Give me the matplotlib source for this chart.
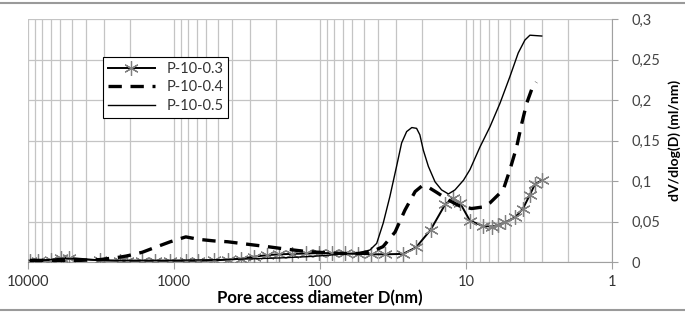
import matplotlib
matplotlib.use('Agg')
import matplotlib.pyplot as plt
from matplotlib.lines import Line2D
from matplotlib.ticker import LogLocator, FuncFormatter, NullFormatter

plt.rcParams['font.family'] = ['Lato', 'DejaVu Sans']

# pore diameters (nm) and dV/dlog(D) values
d_03 = [9700, 8500, 7000, 5900, 5200, 3200, 2350, 2100, 1650, 1350, 1060, 830,
        680, 530, 430, 350, 285, 230, 190, 155, 125, 102, 83, 67, 55, 44.5, 36,
        27, 22, 17.5, 13.9, 12.3, 11.0, 9.4, 7.65, 6.64, 6.04, 5.41, 4.62, 4.07,
        3.65, 3.37, 3.01]
v_03 = [0.0015, 0.0015, 0.002, 0.005, 0.005, 0.002, 0.0015, 0.0015, 0.0015,
        0.0015, 0.0015, 0.0015, 0.0015, 0.002, 0.003, 0.004, 0.0065, 0.0085,
        0.0095, 0.010, 0.0105, 0.011, 0.011, 0.0105, 0.010, 0.0095, 0.0095,
        0.010, 0.018, 0.0395, 0.071, 0.079, 0.073, 0.051, 0.0445, 0.0438,
        0.0455, 0.049, 0.055, 0.066, 0.083, 0.096, 0.101]

d_04 = [9700, 5900, 5200, 3200, 2350, 2100, 1650, 1350, 1060, 830, 680, 530,
        430, 350, 285, 230, 190, 155, 125, 102, 83, 67, 55, 45, 37, 30.6, 26.2,
        22.3, 20, 18, 15.9, 13.2, 11.0, 9.15, 7.6, 6.85, 5.56, 5.0, 4.5, 4.15,
        3.84, 3.55, 3.3]
v_04 = [0.002, 0.002, 0.0015, 0.003, 0.006, 0.0075, 0.012, 0.018, 0.025, 0.031,
        0.028, 0.026, 0.025, 0.023, 0.021, 0.019, 0.017, 0.015, 0.013, 0.012,
        0.011, 0.0105, 0.0105, 0.012, 0.019, 0.037, 0.064, 0.087, 0.094, 0.092,
        0.086, 0.0765, 0.069, 0.066, 0.068, 0.073, 0.089, 0.114, 0.142, 0.171,
        0.196, 0.213, 0.222]

d_05 = [9700, 7000, 5900, 5200, 3200, 1650, 1060, 680, 430, 285, 190, 125, 102,
        85, 67, 55, 45.5, 40.9, 36.9, 33.2, 29.9, 27.6, 25.5, 23.5, 21.8, 20.7,
        19.6, 18.1, 16.3, 14.7, 13.2, 11.9, 10.4, 9.4, 8.02, 6.85, 5.85, 5.0,
        4.39, 3.95, 3.65, 3.03]
v_05 = [0.002, 0.003, 0.0045, 0.004, 0.002, 0.002, 0.002, 0.0025, 0.003, 0.004,
        0.005, 0.0065, 0.0075, 0.0086, 0.010, 0.011, 0.0148, 0.023, 0.048, 0.081,
        0.118, 0.147, 0.161, 0.166, 0.165, 0.157, 0.138, 0.118, 0.099, 0.089,
        0.084, 0.089, 0.101, 0.114, 0.142, 0.167, 0.196, 0.229, 0.258, 0.274,
        0.280, 0.279]

labels = ['P-10-0.3', 'P-10-0.4', 'P-10-0.5']
y_ticks = [0, 0.05, 0.1, 0.15, 0.2, 0.25, 0.3]
x_ticks = [10000, 1000, 100, 10, 1]

fig = plt.figure(figsize=(6.85, 3.12), dpi=100)
ax = fig.add_axes([28 / 685, 50 / 312, 584 / 685, 243 / 312])

# grey frame lines of the chart area (top and bottom)
fig.add_artist(Line2D([0, 1], [0.991, 0.991], transform=fig.transFigure,
                      color='#9a9a9a', lw=1.5))
fig.add_artist(Line2D([0, 1], [0.007, 0.007], transform=fig.transFigure,
                      color='#9a9a9a', lw=1.5))

ax.plot(d_03, v_03, color='black', lw=1.4, marker=(6, 2, 0), markersize=10.5,
        markeredgecolor='#808080', markeredgewidth=0.9, label=labels[0], zorder=3)
ax.plot(d_04, v_04, color='black', lw=2.4, dashes=(4, 2.6), label=labels[1], zorder=4)
ax.plot(d_05, v_05, color='black', lw=1.0, label=labels[2], zorder=5)

ax.set_xscale('log')
ax.set_xlim(10000, 1)
ax.set_ylim(0, 0.3)

ax.set_xticks(x_ticks)
ax.xaxis.set_major_formatter(FuncFormatter(lambda v, p: f'{v:g}'))
ax.xaxis.set_minor_locator(LogLocator(base=10, subs=range(2, 10)))
ax.xaxis.set_minor_formatter(NullFormatter())
ax.set_yticks(y_ticks)
ax.yaxis.set_major_formatter(FuncFormatter(lambda v, p: f'{v:g}'.replace('.', ',')))
ax.yaxis.tick_right()
ax.yaxis.set_label_position('right')

ax.grid(which='both', axis='x', color='#c4c4c4', lw=0.9)
ax.grid(which='major', axis='y', color='#c4c4c4', lw=0.9)
ax.set_axisbelow(True)

for s in ['top', 'left']:
    ax.spines[s].set_visible(False)
for s in ['right', 'bottom']:
    ax.spines[s].set_color('#a0a0a0')

ax.tick_params(axis='x', which='major', length=5, color='#a0a0a0', labelsize=10.5,
               labelcolor='#333333', pad=4)
ax.tick_params(axis='x', which='minor', length=0)
ax.tick_params(axis='y', length=4, color='#a0a0a0', labelsize=10.5,
               labelcolor='#444444', pad=10)

ax.set_xlabel('Pore access diameter D(nm)', fontsize=12, fontweight='bold', labelpad=1)
ax.set_ylabel('dV/dlog(D) (ml/nm)', fontsize=10, fontweight='bold', labelpad=6)

ax.legend(loc='upper left', bbox_to_anchor=(0.128, 0.8436), borderaxespad=0,
          fontsize=10.5, frameon=True, fancybox=False, edgecolor='black',
          framealpha=1, handlelength=3.2, labelspacing=0.3, borderpad=0.35)
for t in ax.get_legend().get_texts():
    t.set_color('#333333')
ax.get_legend().get_frame().set_linewidth(0.8)

fig.savefig('out.png', dpi=100)
